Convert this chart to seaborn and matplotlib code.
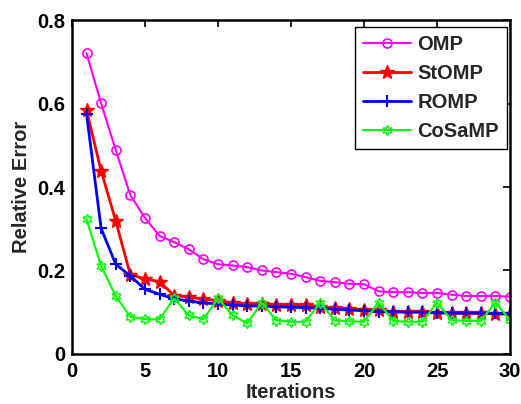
import matplotlib
matplotlib.use("Agg")
import matplotlib.pyplot as plt
import seaborn as sns
import pandas as pd

iterations = list(range(1, 31))
omp = [0.721, 0.601, 0.489, 0.381, 0.326, 0.283, 0.268, 0.251, 0.227, 0.215,
       0.212, 0.208, 0.200, 0.196, 0.192, 0.184, 0.175, 0.172, 0.168, 0.167,
       0.150, 0.148, 0.148, 0.146, 0.146, 0.142, 0.139, 0.139, 0.139, 0.137]
stomp = [0.584, 0.439, 0.319, 0.190, 0.180, 0.173, 0.140, 0.136, 0.131, 0.128,
         0.122, 0.120, 0.120, 0.118, 0.117, 0.117, 0.113, 0.109, 0.107, 0.105,
         0.105, 0.101, 0.101, 0.101, 0.099, 0.097, 0.097, 0.097, 0.096, 0.095]
romp = [0.576, 0.301, 0.215, 0.187, 0.155, 0.143, 0.132, 0.127, 0.122, 0.120,
        0.117, 0.115, 0.115, 0.113, 0.112, 0.111, 0.109, 0.107, 0.105, 0.104,
        0.101, 0.101, 0.100, 0.100, 0.099, 0.098, 0.098, 0.098, 0.097, 0.097]
cosamp = [0.323, 0.211, 0.139, 0.089, 0.083, 0.083, 0.133, 0.093, 0.083, 0.133,
          0.093, 0.073, 0.123, 0.080, 0.077, 0.077, 0.123, 0.080, 0.078, 0.077,
          0.123, 0.079, 0.077, 0.077, 0.123, 0.081, 0.079, 0.079, 0.123, 0.081]
series_names = ["OMP", "StOMP", "ROMP", "CoSaMP"]
x_ticks = [0, 5, 10, 15, 20, 25, 30]
y_ticks = [0, 0.2, 0.4, 0.6, 0.8]
y_tick_labels = ["0", "0.2", "0.4", "0.6", "0.8"]

sns.set_style("white")
plt.rcParams['font.family'] = ['Liberation Sans', 'DejaVu Sans']
plt.rcParams['font.weight'] = 'bold'

FS = 14.5

fig = plt.figure(figsize=(5.21, 4.04), dpi=100)
ax = fig.add_axes([0.138, 0.124, 0.841, 0.826])

styles = {
    "OMP": dict(color=(1, 0, 1), marker="o", mfc="none", mec=(1, 0, 1), ms=6.5, mew=1.2, lw=1.5),
    "StOMP": dict(color=(1, 0, 0), marker="*", mfc=(1, 0, 0), mec=(1, 0, 0), ms=10, mew=1, lw=2),
    "ROMP": dict(color=(0, 0, 1), marker="+", mec=(0, 0, 1), ms=8, mew=1.5, lw=2),
    "CoSaMP": dict(color=(0, 1, 0), marker=(6, 1, 0), mfc="none", mec=(0, 1, 0), ms=7.5, mew=1.0, lw=1.5),
}
values = {"OMP": omp, "StOMP": stomp, "ROMP": romp, "CoSaMP": cosamp}

for name in series_names:
    df = pd.DataFrame({"Iterations": iterations, "Relative Error": values[name]})
    st = styles[name]
    sns.lineplot(data=df, x="Iterations", y="Relative Error", ax=ax, label=name,
                 color=st["color"], marker=st["marker"], markersize=st["ms"],
                 markerfacecolor=st.get("mfc", st["color"]), markeredgecolor=st["mec"],
                 markeredgewidth=st["mew"], linewidth=st["lw"])

ax.set_xlim(0, 30)
ax.set_ylim(0, 0.8)
ax.set_xticks(x_ticks)
ax.set_yticks(y_ticks)
ax.set_xticklabels([str(t) for t in x_ticks], fontsize=FS, fontweight='bold')
ax.set_yticklabels(y_tick_labels, fontsize=FS, fontweight='bold')
ax.set_xlabel("Iterations", fontsize=FS, fontweight='bold', labelpad=1)
ax.set_ylabel("Relative Error", fontsize=FS, fontweight='bold', labelpad=4)
ax.tick_params(direction='in', length=5, width=1.2, top=True, right=True, colors='black')
ax.tick_params(axis='x', pad=6)
ax.tick_params(axis='y', pad=5)
for sp in ax.spines.values():
    sp.set_visible(True)
    sp.set_color('black')
    sp.set_linewidth(1.8)
ax.grid(False)

leg = ax.legend(loc='upper right', bbox_to_anchor=(0.993, 0.98),
                prop={'weight': 'bold', 'size': FS}, frameon=True, fancybox=False,
                edgecolor='black', framealpha=1, borderpad=0.4, labelspacing=0.5,
                handlelength=2.4, handletextpad=0.3, borderaxespad=0.0)
leg.get_frame().set_linewidth(1.0)

fig.savefig("out.png", dpi=100)
